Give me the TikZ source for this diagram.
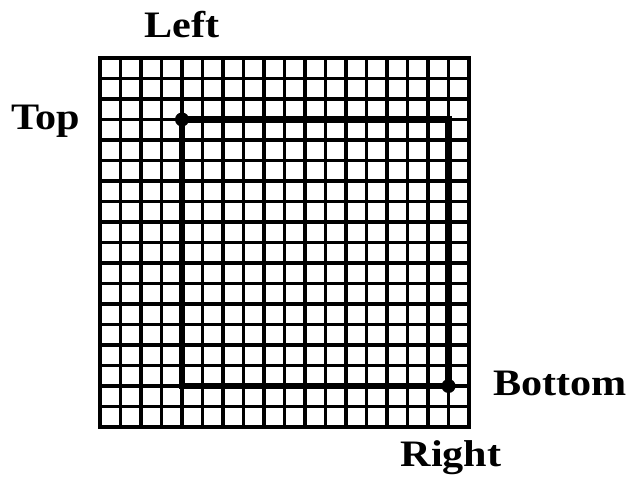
\documentclass[tikz,border=0pt]{standalone}
\usepackage{fontspec}
\setmainfont{Liberation Serif}
\begin{document}
\begin{tikzpicture}[x=0.75pt,y=-0.75pt,
  gridline/.style={line width=2.4pt},
  frameline/.style={line width=3.2pt},
  pathline/.style={line width=5pt},
  dotnode/.style={circle,fill=black,inner sep=0pt,minimum size=10.5pt},
  lbl/.style={font=\fontsize{28}{30}\selectfont\bfseries, inner sep=0pt, xscale=1.13}]
\useasboundingbox (0,0) rectangle (630,477);
\def\gx{100}\def\gy{58}\def\cs{20.5}
\foreach \i in {1,...,17}{
  \draw[gridline] ({\gx+\i*\cs},\gy) -- ({\gx+\i*\cs},{\gy+18*\cs});
  \draw[gridline] (\gx,{\gy+\i*\cs}) -- ({\gx+18*\cs},{\gy+\i*\cs});
}
\draw[frameline] (\gx,\gy) rectangle ({\gx+18*\cs},{\gy+18*\cs});
\node[dotnode] (tl) at ({\gx+4*\cs},{\gy+3*\cs}) {};
\node[dotnode] (br) at ({\gx+17*\cs},{\gy+16*\cs}) {};
\draw[pathline] (tl.center) -| (br.center) -| (tl.center);
\node[lbl] (left) at (182,25) {Left};
\node[lbl] (top) at (46,121) {Top};
\node[lbl] (bottom) at (560,383) {Bottom};
\node[lbl] (right) at (451,458) {Right};
\end{tikzpicture}
\end{document}
